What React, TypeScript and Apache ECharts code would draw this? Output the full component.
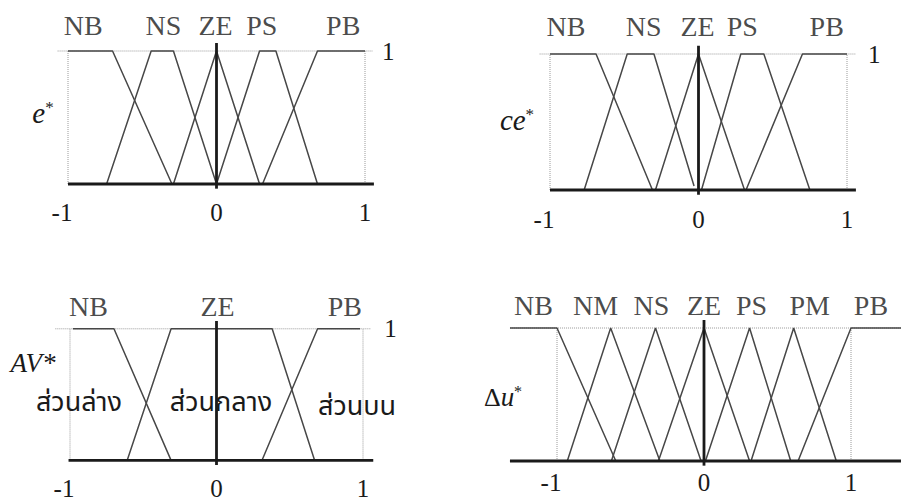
import React, { useEffect, useRef } from "react";
import * as echarts from "echarts";

// Membership functions, one list of [x, degree] vertices per linguistic term.

// e*
const eTerms = ["NB", "NS", "ZE", "PS", "PB"];
const eSets: number[][][] = [
  [[-1, 1], [-0.7, 1], [-0.3, 0]],
  [[-0.74, 0], [-0.44, 1], [-0.29, 1], [0, 0]],
  [[-0.29, 0], [0, 1], [0.29, 0]],
  [[0, 0], [0.29, 1], [0.4, 1], [0.68, 0]],
  [[0.31, 0], [0.68, 1], [1, 1]],
];

// ce*
const ceTerms = ["NB", "NS", "ZE", "PS", "PB"];
const ceSets: number[][][] = [
  [[-1, 1], [-0.69, 1], [-0.31, 0]],
  [[-0.77, 0], [-0.48, 1], [-0.3, 1], [-0.03, 0.03]],
  [[-0.29, 0], [0, 1], [0.31, 0]],
  [[0.02, 0], [0.285, 1], [0.44, 1], [0.75, 0]],
  [[0.32, 0], [0.7, 1], [1, 1]],
];

// AV*
const avTerms = ["NB", "ZE", "PB"];
const avSets: number[][][] = [
  [[-0.98, 1], [-0.7, 1], [-0.31, 0]],
  [[-0.61, 0], [-0.31, 1], [0.38, 1], [0.67, 0]],
  [[0.31, 0], [0.69, 1], [0.98, 1]],
];
const avRegions = ["ส่วนล่าง", "ส่วนกลาง", "ส่วนบน"];

// Δu*
const duTerms = ["NB", "NM", "NS", "ZE", "PS", "PM", "PB"];
const duSets: number[][][] = [
  [[-1.32, 1], [-1, 1], [-0.6, 0]],
  [[-0.93, 0], [-0.635, 1], [-0.3, 0]],
  [[-0.63, 0], [-0.33, 1], [-0.02, 0]],
  [[-0.31, 0], [0, 1], [0.31, 0]],
  [[0.01, 0], [0.31, 1], [0.59, 0]],
  [[0.32, 0], [0.61, 1], [0.9, 0]],
  [[0.64, 0], [1, 1], [1.34, 1]],
];

const xTicks = [-1, 0, 1];
const yTicks = [1];

const SERIF = "'Liberation Serif', 'Times New Roman', serif";
const THAI = "'Noto Sans Thai', 'Noto Serif Thai', 'Garuda', 'Loma', 'Norasi', 'Tlwg Typo', sans-serif";
const INK = "#1a1a1a";
const CURVE = "#474747";
const DOT = "#9a9a9a";

type Panel = {
  terms: string[];
  sets: number[][][];
  // pixel anchors: x=-1, x=1, degree 1, degree 0
  a: number; b: number; t: number; bt: number;
  xMin: number; xMax: number;
  baseStart: number; topStart: number; topEnd: number;
  labelMargin: number; rightLabel: boolean; rightMargin: number;
  termGap: number;
  // horizontal pixel nudges for the term names so they do not collide
  nudge: number[];
};

const Y_MIN = -0.05;
const Y_MAX = 1.08;

const panels: Panel[] = [
  { terms: eTerms, sets: eSets, a: 68, b: 365, t: 51, bt: 184, xMin: -1.08, xMax: 1.06,
    baseStart: -1, topStart: -1.07, topEnd: 1.05, labelMargin: 9, rightLabel: true, rightMargin: 8,
    termGap: 11, nudge: [-7, 1, -1, -6, 2] },
  { terms: ceTerms, sets: ceSets, a: 550, b: 847, t: 54, bt: 190, xMin: -1.08, xMax: 1.06,
    baseStart: -1, topStart: -1.07, topEnd: 1.06, labelMargin: 10, rightLabel: true, rightMargin: 12,
    termGap: 13, nudge: [-7, 3, -1, -10, 2] },
  { terms: avTerms, sets: avSets, a: 70, b: 363, t: 329, bt: 463, xMin: -1.1, xMax: 1.07,
    baseStart: -1.01, topStart: -1.1, topEnd: 1.05, labelMargin: 9, rightLabel: true, rightMargin: 11,
    termGap: 8, nudge: [-5, -4, 6] },
  { terms: duTerms, sets: duSets, a: 557, b: 851, t: 328, bt: 461, xMin: -1.32, xMax: 1.34,
    baseStart: -1.32, topStart: -1.32, topEnd: 1.34, labelMargin: 2, rightLabel: false, rightMargin: 8,
    termGap: 8, nudge: [0, -15, -4, 0, 2, 16, -5] },
];

function plateauCenter(pts: number[][]): number {
  const top = pts.filter((p) => p[1] === 1).map((p) => p[0]);
  return (Math.min(...top) + Math.max(...top)) / 2;
}

function buildOption() {
  const grid: any[] = [];
  const xAxis: any[] = [];
  const yAxis: any[] = [];
  const series: any[] = [];

  panels.forEach((p, i) => {
    const ux = (p.b - p.a) / 2;
    const uy = p.bt - p.t;
    grid.push({
      left: p.a + (p.xMin + 1) * ux,
      width: (p.xMax - p.xMin) * ux,
      top: p.t - (Y_MAX - 1) * uy,
      height: (Y_MAX - Y_MIN) * uy,
      containLabel: false,
    });
    xAxis.push({
      gridIndex: i,
      type: "value",
      min: p.xMin,
      max: p.xMax,
      axisLine: { show: false },
      axisTick: { show: false },
      splitLine: { show: false },
      axisLabel: {
        customValues: xTicks,
        margin: p.labelMargin,
        color: INK,
        fontFamily: SERIF,
        fontSize: 25,
        formatter: (v: number) => (v < 0 ? `{neg|${v}}` : `${v}`),
        rich: { neg: { fontFamily: SERIF, fontSize: 25, color: INK, padding: [0, 12, 0, 0] } },
      },
    });
    yAxis.push({
      gridIndex: i,
      type: "value",
      min: Y_MIN,
      max: Y_MAX,
      position: "right",
      axisLine: { show: false },
      axisTick: { show: false },
      splitLine: { show: false },
      axisLabel: {
        show: p.rightLabel,
        customValues: yTicks,
        margin: p.rightMargin,
        color: INK,
        fontFamily: SERIF,
        fontSize: 25,
        padding: [14, 0, 0, 0],
      },
    });

    const base = { xAxisIndex: i, yAxisIndex: i, type: "line", symbol: "none", silent: true };

    // dotted frame: degree-1 line and the verticals at -1 and 1
    series.push({ ...base, data: [[p.topStart, 1], [p.topEnd, 1]],
      lineStyle: { color: DOT, width: 1, type: "dotted" }, z: 1 });
    series.push({ ...base, data: [[-1, 0], [-1, 1]],
      lineStyle: { color: DOT, width: 1, type: "dotted" }, z: 1 });
    series.push({ ...base, data: [[1, 0], [1, 1]],
      lineStyle: { color: DOT, width: 1, type: "dotted" }, z: 1 });

    // membership functions
    p.sets.forEach((pts, k) => {
      series.push({ ...base, name: p.terms[k], data: pts,
        lineStyle: { color: CURVE, width: 1.5 }, z: 3 });
    });

    // universe axis and the zero line
    series.push({ ...base, data: [[p.baseStart, 0], [p.xMax, 0]],
      lineStyle: { color: INK, width: 2.8 }, z: 4 });
    series.push({ ...base, data: [[0, -0.035], [0, 1.06]],
      lineStyle: { color: INK, width: 2.8 }, z: 4 });

    // term names above each plateau / peak
    series.push({
      xAxisIndex: i, yAxisIndex: i, type: "scatter", silent: true,
      symbolSize: 1, itemStyle: { color: "rgba(0,0,0,0)" },
      data: p.sets.map((pts, k) => ({
        value: [plateauCenter(pts), 1],
        name: p.terms[k],
        label: { offset: [p.nudge[k], 0] },
      })),
      label: {
        show: true, position: "top", distance: p.termGap,
        formatter: (d: any) => d.name,
        color: INK, fontFamily: SERIF, fontSize: 28,
      },
      z: 5,
    });
  });

  const sup = { fontFamily: SERIF, fontSize: 17, verticalAlign: "top", fill: INK };
  const graphic: any[] = [
    { type: "text", x: 43, y: 113, z: 10,
      style: { text: "{i|e}{s|*}", align: "center", verticalAlign: "middle", fill: INK,
        rich: { i: { fontFamily: SERIF, fontStyle: "italic", fontSize: 29, fill: INK }, s: sup } } },
    { type: "text", x: 517, y: 120, z: 10,
      style: { text: "{i|ce}{s|*}", align: "center", verticalAlign: "middle", fill: INK,
        rich: { i: { fontFamily: SERIF, fontStyle: "italic", fontSize: 29, fill: INK }, s: sup } } },
    { type: "text", x: 33, y: 363, z: 10,
      style: { text: "AV*", align: "center", verticalAlign: "middle", fill: INK,
        fontFamily: SERIF, fontStyle: "italic", fontSize: 27 } },
    { type: "text", x: 503, y: 397, z: 10,
      style: { text: "{d|Δ}{i|u}{s|*}", align: "center", verticalAlign: "middle", fill: INK,
        rich: { d: { fontFamily: SERIF, fontSize: 26, fill: INK },
                i: { fontFamily: SERIF, fontStyle: "italic", fontSize: 27, fill: INK },
                s: { ...sup, fontSize: 16 } } } },
    { type: "text", x: 79, y: 402, z: 10,
      style: { text: avRegions[0], align: "center", verticalAlign: "middle", fill: INK,
        fontFamily: THAI, fontSize: 27 } },
    { type: "text", x: 221, y: 402, z: 10,
      style: { text: avRegions[1], align: "center", verticalAlign: "middle", fill: INK,
        fontFamily: THAI, fontSize: 27 } },
    { type: "text", x: 357, y: 406, z: 10,
      style: { text: avRegions[2], align: "center", verticalAlign: "middle", fill: INK,
        fontFamily: THAI, fontSize: 27 } },
  ];

  return {
    animation: false,
    backgroundColor: "#ffffff",
    grid,
    xAxis,
    yAxis,
    series,
    graphic,
  };
}

export default function App() {
  const ref = useRef<HTMLDivElement>(null);

  useEffect(() => {
    if (!ref.current) return;
    const chart = echarts.init(ref.current, undefined, { renderer: "svg" });
    chart.setOption(buildOption());
    return () => chart.dispose();
  }, []);

  return (
    <div
      ref={ref}
      style={{ position: "absolute", left: 0, top: 0, width: 919, height: 501, background: "#fff" }}
    />
  );
}
